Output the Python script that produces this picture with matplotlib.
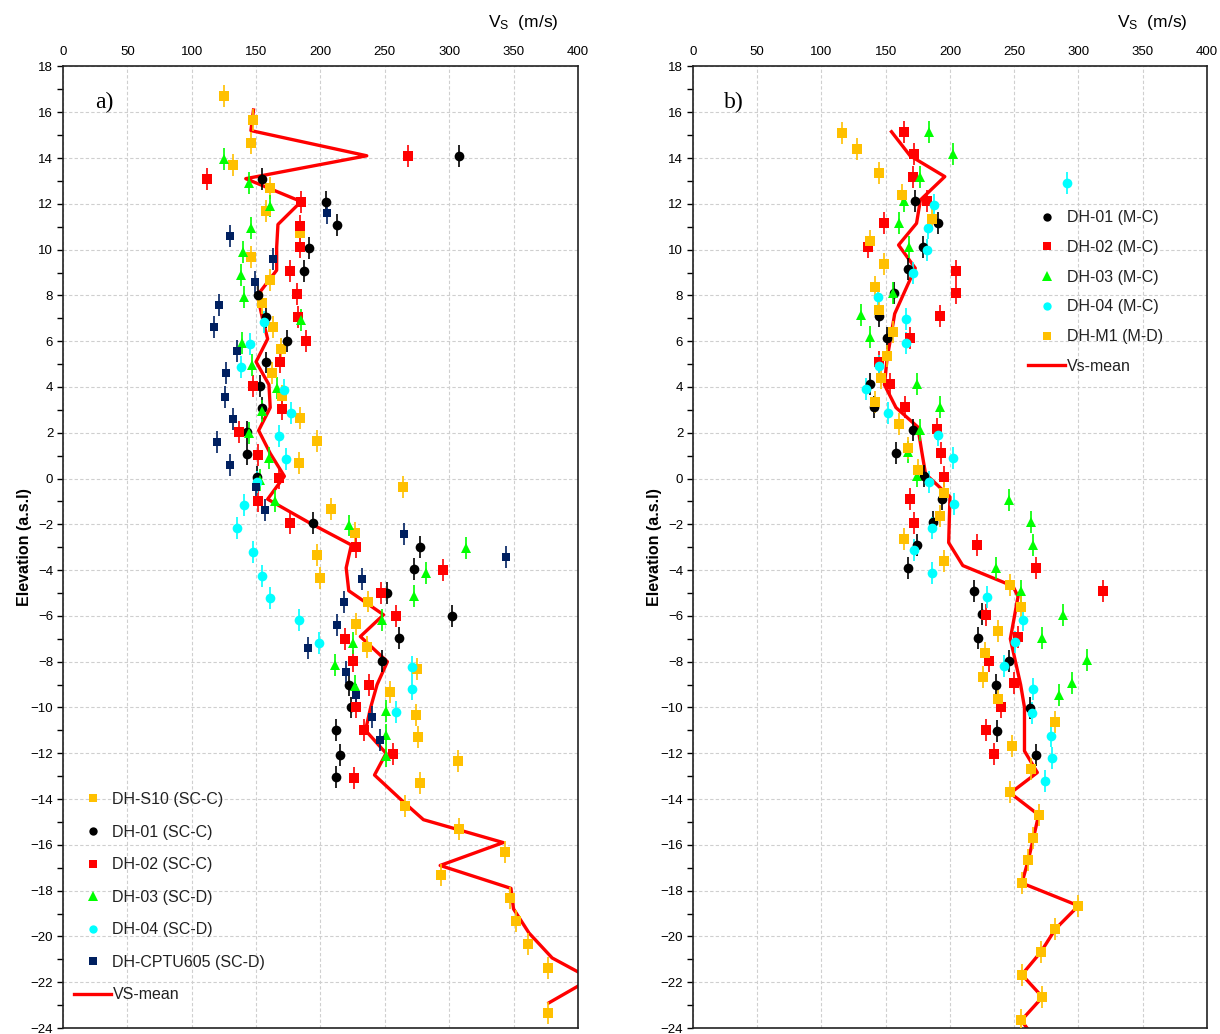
import matplotlib
matplotlib.use("Agg")
import matplotlib.pyplot as plt
from matplotlib.lines import Line2D
from matplotlib.ticker import MultipleLocator

plt.rcParams['font.family'] = ['Liberation Sans', 'DejaVu Sans']

# ---------------- panel a) : SC sites ----------------
s10_elev = [16.7, 15.66, 14.67, 13.69, 12.68, 11.7, 10.72, 9.66, 8.68, 7.66, 6.64, 5.65, 4.63, 3.61,
            2.66, 1.66, 0.67, -0.35, -1.34, -2.36, -3.33, -4.35, -5.37, -6.34, -7.34, -8.32, -9.33,
            -10.32, -11.31, -12.33, -13.3, -14.32, -15.31, -16.33, -17.3, -18.32, -19.34, -20.32,
            -21.38, -23.35]
s10_vs = [125, 148, 146, 132, 161, 158, 184, 146, 161, 155, 163, 169, 162, 170,
          184, 197, 183, 264, 208, 227, 197, 200, 237, 228, 236, 275, 254,
          274, 276, 307, 277, 266, 308, 343, 294, 347, 352, 361, 377, 377]

a01_elev = [14.09, 13.1, 12.1, 11.08, 10.09, 9.08, 8.02, 7.05, 6.03, 5.07, 4.05, 3.07, 2.05, 1.08,
            0.09, -1.95, -2.97, -3.96, -4.98, -6.0, -6.97, -7.99, -9.01, -10.0, -11.0, -12.07, -13.04]
a01_vs = [308, 155, 204, 213, 191, 187, 151.5, 158, 174, 158, 153, 155, 143, 143,
          151, 194, 277, 273, 252, 302, 261, 248, 222, 224, 212, 215, 212]

a02_elev = [14.08, 13.1, 12.1, 11.05, 10.1, 9.08, 8.07, 7.07, 6.03, 5.07, 4.05, 3.03, 2.05, 1.03,
            0.04, -0.97, -1.92, -2.97, -3.99, -4.98, -6.0, -7.01, -7.99, -9.01, -9.98, -11.0,
            -12.02, -13.06]
a02_vs = [268, 112, 185, 184, 184, 176, 181.5, 182.5, 189, 168.5, 148, 170, 137, 151.5,
          168, 151.5, 176, 228, 295, 247, 259, 219, 225, 238, 228, 234, 256, 226]

a03_elev = [13.95, 12.9, 11.9, 10.93, 9.9, 8.9, 7.92, 6.93, 5.91, 4.96, 3.95, 2.93, 1.98, 0.89,
            -0.06, -1.0, -2.05, -3.04, -4.13, -5.15, -6.17, -7.19, -8.13, -9.08, -10.17, -11.19,
            -12.14]
a03_vs = [125, 144.5, 161, 146, 140, 138, 141, 185, 139, 147, 166.5, 155, 144.5, 160,
          153, 165, 222, 313, 282, 273, 247.5, 225, 211, 227, 251, 251, 251]

a04_elev = [6.86, 5.87, 4.89, 3.87, 2.86, 1.86, 0.85, -0.13, -1.15, -2.17, -3.19, -4.24, -5.2,
            -6.17, -7.19, -8.21, -9.2, -10.2]
a04_vs = [156, 145, 138, 172, 177, 168, 173, 151, 141, 135, 148, 155, 161,
          183, 199, 271, 271, 259]

cptu_elev = [11.6, 10.6, 9.58, 8.6, 7.6, 6.61, 5.59, 4.6, 3.58, 2.6, 1.59, 0.61, -0.39, -1.37,
             -2.42, -3.41, -4.39, -5.41, -6.39, -7.41, -8.43, -9.45, -10.42, -11.44]
cptu_vs = [205, 130, 163, 149, 121, 117, 135, 127, 126, 132, 120, 130, 150, 157,
           265, 344, 232, 218, 213, 190, 220, 228, 240, 246]

mean_a_elev = [16.1, 15.2, 14.1, 13.1, 12.1, 11.1, 10.1, 9.1, 8.0, 7.0, 6.1, 5.1, 4.1, 3.1, 2.1,
               1.1, 0.1, -0.9, -1.95, -2.9, -3.9, -4.9, -5.95, -6.9, -8.0, -9.0, -10.0, -11.0,
               -12.0, -12.95, -14.1, -14.9, -15.9, -16.9, -17.9, -18.8, -19.85, -20.94, -21.85,
               -22.9]
mean_a_vs = [148, 146, 236, 142, 185, 167, 166, 166, 151, 155, 159, 150, 160, 161, 152,
             161, 172, 159, 192, 224, 220, 222, 249, 231, 252, 244, 239, 235,
             251, 242, 264, 280, 342, 293, 348, 350, 362, 380, 410, 377.5]

# ---------------- panel b) : M sites ----------------
b01_elev = [12.14, 11.15, 10.13, 9.14, 8.12, 7.1, 6.13, 4.14, 3.12, 2.13, 1.11, 0.12, -0.9, -1.88,
            -2.9, -3.91, -4.93, -5.91, -6.97, -7.99, -9.01, -10.03, -11.02, -12.07]
b01_vs = [173, 191, 179, 167, 156.5, 145, 151, 138, 141, 171, 158, 180, 194, 187,
          174, 167, 219, 225, 222, 246, 236, 262, 237, 267]

b02_elev = [15.15, 14.17, 13.16, 12.14, 11.15, 10.1, 9.08, 8.12, 7.1, 6.13, 5.11, 4.12, 3.12,
            2.16, 1.11, 0.09, -0.9, -1.92, -2.9, -3.91, -4.89, -5.95, -6.94, -7.96, -8.93, -9.96,
            -11.0, -12.02]
b02_vs = [164, 172, 171, 182, 149, 136, 205, 205, 192, 169, 145, 153, 165,
          190, 193, 195, 169, 172, 221, 267, 319, 228, 253, 230, 250, 240, 228, 234]

b03_elev = [15.15, 14.17, 13.16, 12.14, 11.15, 10.13, 8.1, 7.15, 6.2, 4.13, 3.14, 2.13, 1.14,
            0.12, -0.93, -1.88, -2.9, -3.91, -4.93, -5.95, -6.97, -7.92, -8.93, -9.45]
b03_vs = [184, 202.5, 177, 164, 160, 168, 156, 131, 138, 174.5, 192, 177, 167,
          174.5, 246, 263, 265, 236, 255, 288, 272, 307, 295, 285]

b04_elev = [12.91, 11.95, 10.93, 9.99, 8.97, 7.92, 6.96, 5.91, 4.92, 3.9, 2.88, 1.91, 0.89,
            -0.13, -1.12, -2.14, -3.11, -4.13, -5.18, -6.17, -7.16, -8.17, -9.2, -10.22, -11.24,
            -12.21, -13.23]
b04_vs = [291, 187.5, 183, 182, 171, 144, 166, 166, 145, 135, 152, 191, 202.5,
          184, 203, 186, 172, 186, 228.5, 256.5, 250.5, 242, 265, 263.5, 278.6, 279.6, 274]

m1_elev = [15.08, 14.38, 13.34, 12.39, 11.34, 10.39, 9.36, 8.38, 7.37, 6.42, 5.36, 4.38, 3.36,
           2.38, 1.35, 0.38, -0.64, -1.63, -2.65, -3.62, -4.67, -5.63, -6.65, -7.62, -8.65,
           -9.63, -10.65, -11.67, -12.69, -13.7, -14.69, -15.7, -16.65, -17.67, -18.66, -19.68,
           -20.66, -21.67, -22.65, -23.67]
m1_vs = [116, 128, 145, 162.5, 186, 138, 149, 141.5, 145, 156, 151, 146, 141.5,
         160, 167, 175, 195, 192, 164, 195, 247, 255, 237.5, 227, 226,
         237.5, 281.7, 248.4, 263, 247, 269, 265, 261, 256, 300, 282,
         271, 256, 272, 255.5]

mean_b_elev = [15.15, 14.1, 13.19, 12.17, 11.15, 10.2, 9.19, 8.2, 7.2, 6.2, 5.2, 4.1, 3.1, 2.25,
               1.2, 0.2, -0.8, -1.8, -2.8, -3.8, -4.7, -5.15, -7.0, -8.0, -9.0, -10.0, -11.0,
               -11.9, -12.84, -13.74, -14.69, -15.7, -16.65, -17.67, -18.66, -19.68, -20.66,
               -21.67, -22.65, -23.67, -24.6]
mean_b_vs = [154.5, 169, 196, 177, 174, 160, 173, 165, 157, 154, 151, 149, 158, 175,
             178, 181, 200, 199.5, 199, 210, 249, 253, 247, 251, 255, 258, 258,
             258, 268, 247, 269, 265, 261, 256, 300, 282, 271,
             256, 272, 255.5, 268]

VS_ERR = 0.48  # vertical half-width of the bars (m)

GOLD = '#FFC000'
RED = '#FF0000'
GREEN = '#00FF00'
CYAN = '#00FFFF'
NAVY = '#002060'


def draw_series(ax, vs, elev, color, marker, ms):
    ax.errorbar(vs, elev, yerr=VS_ERR, fmt=marker, color=color, ecolor=color,
                markersize=ms, markeredgewidth=0, elinewidth=1.2, capsize=4.2,
                capthick=1.2, zorder=3)


def style_axes(ax, tag):
    ax.set_xlim(0, 400)
    ax.set_ylim(-24, 18)
    ax.xaxis.tick_top()
    ax.xaxis.set_major_locator(MultipleLocator(50))
    ax.yaxis.set_major_locator(MultipleLocator(2))
    ax.yaxis.set_minor_locator(MultipleLocator(1))
    ax.tick_params(axis='x', which='both', length=0, labelsize=9.5, pad=6)
    ax.tick_params(axis='y', which='both', direction='out', length=4, width=1,
                   labelsize=9.5, pad=3)
    ax.grid(True, which='major', color='#cfcfcf', linestyle=(0, (3, 2)), linewidth=0.8)
    ax.set_axisbelow(True)
    for sp in ax.spines.values():
        sp.set_color('#222222')
        sp.set_linewidth(1.2)
    ax.set_ylabel('Elevation (a.s.l)', fontsize=11.5, fontweight='bold', labelpad=-1)
    ax.text(0.962, 1.036, r'$\mathregular{V_S}$  (m/s)', transform=ax.transAxes,
            ha='right', va='bottom', fontsize=12.5)
    ax.text(0.08, 0.963, tag, transform=ax.transAxes, ha='center', va='center',
            fontsize=17, family='Liberation Serif')


fig = plt.figure(figsize=(12.2, 10.34), dpi=100)
ax_a = fig.add_axes([0.0516, 0.0058, 0.4221, 0.9299])
ax_b = fig.add_axes([0.5680, 0.0058, 0.4213, 0.9299])

# panel a
ax_a.plot(mean_a_vs, mean_a_elev, color=RED, linewidth=2.4, zorder=2)
draw_series(ax_a, s10_vs, s10_elev, GOLD, 's', 6.8)
draw_series(ax_a, a01_vs, a01_elev, 'black', 'o', 7.0)
draw_series(ax_a, a02_vs, a02_elev, RED, 's', 6.8)
draw_series(ax_a, a03_vs, a03_elev, GREEN, '^', 7.4)
draw_series(ax_a, a04_vs, a04_elev, CYAN, 'o', 7.0)
draw_series(ax_a, cptu_vs, cptu_elev, NAVY, 's', 6.2)
style_axes(ax_a, 'a)')

handles_a = [
    Line2D([], [], ls='none', marker='s', color=GOLD, ms=6, mew=0),
    Line2D([], [], ls='none', marker='o', color='black', ms=6, mew=0),
    Line2D([], [], ls='none', marker='s', color=RED, ms=6, mew=0),
    Line2D([], [], ls='none', marker='^', color=GREEN, ms=6.5, mew=0),
    Line2D([], [], ls='none', marker='o', color=CYAN, ms=6, mew=0),
    Line2D([], [], ls='none', marker='s', color=NAVY, ms=5.5, mew=0),
    Line2D([], [], color=RED, lw=2.4),
]
labels_a = ['DH-S10 (SC-C)', 'DH-01 (SC-C)', 'DH-02 (SC-C)', 'DH-03 (SC-D)',
            'DH-04 (SC-D)', 'DH-CPTU605 (SC-D)', 'VS-mean']
ax_a.legend(handles_a, labels_a, loc='lower left', bbox_to_anchor=(0.0, 0.015),
            frameon=False, fontsize=11.5, labelspacing=1.1, handlelength=2.3,
            handletextpad=0.1, borderaxespad=0.3, labelcolor='#222222')

# panel b
ax_b.plot(mean_b_vs, mean_b_elev, color=RED, linewidth=2.4, zorder=2)
draw_series(ax_b, b01_vs, b01_elev, 'black', 'o', 7.0)
draw_series(ax_b, b02_vs, b02_elev, RED, 's', 6.8)
draw_series(ax_b, b03_vs, b03_elev, GREEN, '^', 7.4)
draw_series(ax_b, b04_vs, b04_elev, CYAN, 'o', 7.0)
draw_series(ax_b, m1_vs, m1_elev, GOLD, 's', 6.8)
style_axes(ax_b, 'b)')

handles_b = [
    Line2D([], [], ls='none', marker='o', color='black', ms=6, mew=0),
    Line2D([], [], ls='none', marker='s', color=RED, ms=6, mew=0),
    Line2D([], [], ls='none', marker='^', color=GREEN, ms=6.5, mew=0),
    Line2D([], [], ls='none', marker='o', color=CYAN, ms=6, mew=0),
    Line2D([], [], ls='none', marker='s', color=GOLD, ms=6, mew=0),
    Line2D([], [], color=RED, lw=2.4),
]
labels_b = ['DH-01 (M-C)', 'DH-02 (M-C)', 'DH-03 (M-C)', 'DH-04 (M-C)',
            'DH-M1 (M-D)', 'Vs-mean']
ax_b.legend(handles_b, labels_b, loc='upper left', bbox_to_anchor=(0.64, 0.857),
            frameon=False, fontsize=11.5, labelspacing=0.92, handlelength=2.3,
            handletextpad=0.1, borderaxespad=0.0, labelcolor='#222222')

fig.savefig('out.png', dpi=100)
